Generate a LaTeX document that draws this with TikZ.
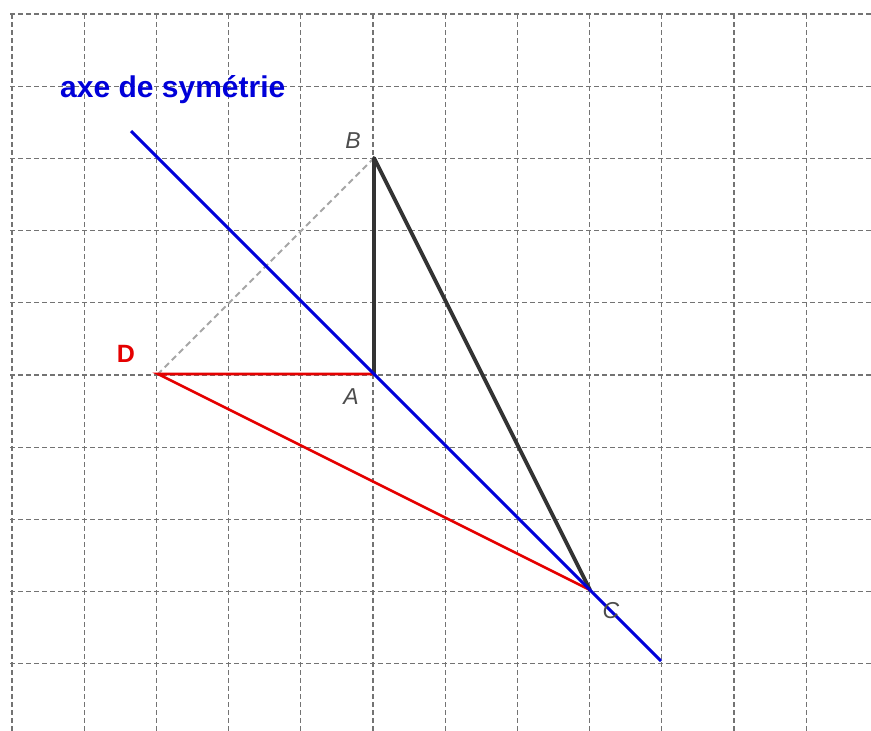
\documentclass[tikz,border=0pt]{standalone}
\usepackage{fontspec}
\setmainfont{Liberation Sans}
\begin{document}
\begin{tikzpicture}[x=1pt,y=-1pt,
  gridline/.style={draw=black!55,line width=1.1pt,dash pattern=on 5pt off 3pt},
  tri/.style={draw=black!80,line width=3.8pt,line cap=round,line join=round},
  sym/.style={draw=red!90!black,line width=2.6pt,line cap=round},
  axis/.style={draw=blue!85!black,line width=3pt},
  aux/.style={draw=black!35,line width=2pt,dash pattern=on 6pt off 4pt},
  ptlabel/.style={text=black!70,font=\itshape\fontsize{23}{23}\selectfont,inner sep=0pt}]
\useasboundingbox (0,0) rectangle (871,731);
\fill[white] (0,0) rectangle (871,731);
% grid
\foreach \i in {0,...,11} {
  \draw[gridline] ({12+72.2*\i},14) -- ({12+72.2*\i},731);
}
\foreach \j in {0,...,9} {
  \draw[gridline] (10,{14+72.2*\j}) -- (871,{14+72.2*\j});
}
% points
\coordinate (A) at (374,374);
\coordinate (B) at (374,158);
\coordinate (C) at (590,590);
\coordinate (D) at (158,374);
\coordinate (P) at (131,131);
\coordinate (Q) at (661,661);
% auxiliary dashed
\draw[aux] (B) -- (D);
% triangle
\draw[tri] (A) -- (B) -- (C);
% symmetric
\draw[sym] (A) -- (D) -- (C);
% axis
\draw[axis] (P) -- (Q);
% labels
\node[ptlabel] (lB) at (353,141) {B};
\node[ptlabel] (lA) at (351,397) {A};
\node[ptlabel] (lC) at (611,611) {C};
\node[text=red!90!black,font=\bfseries\fontsize{25}{25}\selectfont,inner sep=0pt] (lD) at (126,354) {D};
\node[text=blue!85!black,font=\bfseries\fontsize{30}{30}\selectfont,inner sep=0pt,anchor=base west] (title) at (60,97) {axe de symétrie};
\end{tikzpicture}
\end{document}
